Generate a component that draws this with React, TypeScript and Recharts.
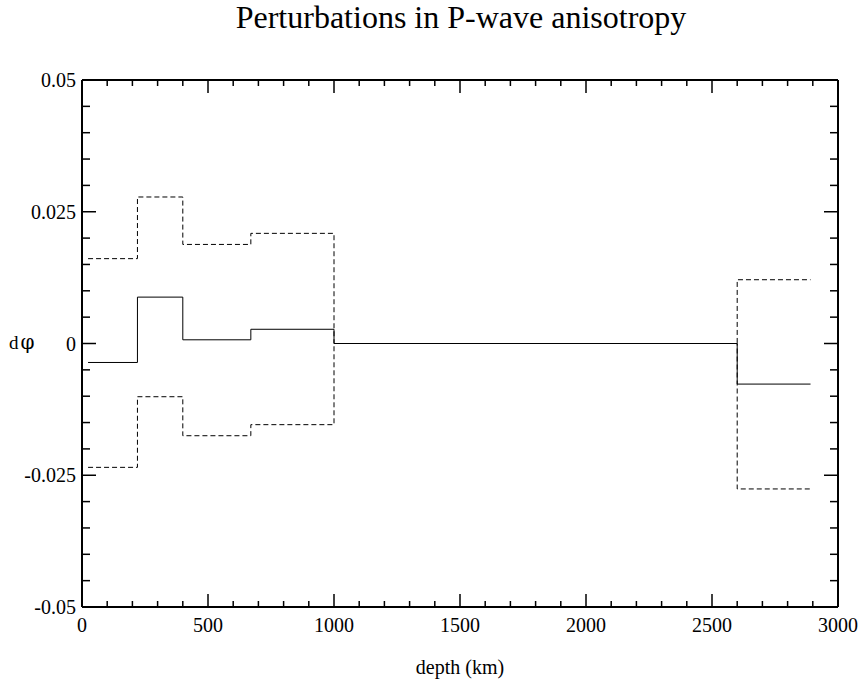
/* Perturbations in P-wave anisotropy — step profile with error bounds */

import { LineChart, Line, XAxis, YAxis } from 'recharts';

// layer tops (km); last entry is the core-mantle boundary
const depths = [24, 220, 400, 670, 1000, 2600, 2891];
const dPhi = [-0.0036, 0.0088, 0.0007, 0.0027, 0, -0.0077, -0.0077];
const upperBound = [0.0161, 0.0278, 0.0188, 0.0209, 0, 0.0121, 0.0121];
const lowerBound = [-0.0235, -0.0101, -0.0175, -0.0154, 0, -0.0276, -0.0276];

const xMajorTicks = [0, 500, 1000, 1500, 2000, 2500, 3000];
const xMinorTicks = [
  0, 100, 200, 300, 400, 500, 600, 700, 800, 900, 1000, 1100, 1200, 1300, 1400,
  1500, 1600, 1700, 1800, 1900, 2000, 2100, 2200, 2300, 2400, 2500, 2600, 2700,
  2800, 2900, 3000,
];
const yMajorTicks = [-0.05, -0.025, 0, 0.025, 0.05];
const yMinorTicks = [
  -0.05, -0.045, -0.04, -0.035, -0.03, -0.025, -0.02, -0.015, -0.01, -0.005, 0,
  0.005, 0.01, 0.015, 0.02, 0.025, 0.03, 0.035, 0.04, 0.045, 0.05,
];

const data = depths.map((depth, i) => ({
  depth,
  dphi: dPhi[i],
  upper: upperBound[i],
  lower: lowerBound[i],
}));

const FONT = '"Liberation Serif", "Times New Roman", serif';
const axisLine = { stroke: '#000', strokeWidth: 2 };

/* Inward tick marks, long on major values (which also get a label).
   Recharts hands us the label anchor; the mark is recovered from it
   with the same margin the axis was given. */
type Side = 'bottom' | 'top' | 'left' | 'right';

function makeTick(side: Side, majors: number[], majorLen: number, minorLen: number, margin: number, showLabel: boolean) {
  return (props: any) => {
    const { x, y, payload } = props;
    const isMajor = majors.includes(payload.value);
    const len = isMajor ? majorLen : minorLen;
    let x1 = x, x2 = x, y1 = y, y2 = y;
    if (side === 'bottom') { y1 = y - margin; y2 = y1 + len; }
    if (side === 'top') { y1 = y + margin; y2 = y1 - len; }
    if (side === 'left') { x1 = x + margin; x2 = x1 - len; }
    if (side === 'right') { x1 = x - margin; x2 = x1 + len; }
    // minor marks start at the axis too, so push them out by the length difference
    if (!isMajor) {
      const d = majorLen - minorLen;
      if (side === 'bottom') { y1 += d; y2 += d; }
      if (side === 'top') { y1 -= d; y2 -= d; }
      if (side === 'left') { x1 -= d; x2 -= d; }
      if (side === 'right') { x1 += d; x2 += d; }
    }
    return (
      <g>
        <line x1={x1} y1={y1} x2={x2} y2={y2} stroke="#000" strokeWidth={1.5} />
        {showLabel && isMajor && (
          <text
            x={x}
            y={y}
            fill="#000"
            style={{ fontFamily: FONT, fontSize: 20 }}
            textAnchor={side === 'left' ? 'end' : 'middle'}
            dominantBaseline={side === 'left' ? 'central' : 'hanging'}
          >
            {String(payload.value)}
          </text>
        )}
      </g>
    );
  };
}

export default function App() {
  return (
    <div style={{ position: 'absolute', left: 0, top: 0, width: 861, height: 683, background: '#fff' }}>
      <div
        style={{
          position: 'absolute', left: 0, width: 922, top: 1, textAlign: 'center',
          fontFamily: FONT, fontSize: 32, lineHeight: 1, color: '#000', whiteSpace: 'nowrap',
        }}
      >
        Perturbations in P-wave anisotropy
      </div>
      <div
        style={{
          position: 'absolute', left: 0, width: 920, top: 657, textAlign: 'center',
          fontFamily: FONT, fontSize: 20, lineHeight: 1, color: '#000', whiteSpace: 'nowrap',
        }}
      >
        depth (km)
      </div>
      <div
        style={{
          position: 'absolute', left: 9, top: 332, fontFamily: FONT, fontSize: 19,
          lineHeight: 1, color: '#000', whiteSpace: 'nowrap',
        }}
      >
        d<span style={{ fontFamily: '"DejaVu Serif", serif', fontSize: 20, marginLeft: 2 }}>φ</span>
      </div>

      <LineChart
        width={861}
        height={683}
        data={data}
        margin={{ top: 0, right: 0, bottom: 0, left: 0 }}
        style={{ position: 'absolute', left: 0, top: 0 }}
      >
        <XAxis xAxisId="b" dataKey="depth" type="number" domain={[0, 3000]} allowDataOverflow
          ticks={xMinorTicks} interval={0} orientation="bottom" height={76}
          tickSize={-13} tickMargin={24} tickLine={false} axisLine={axisLine}
          tick={makeTick('bottom', xMajorTicks, 13, 6, 24, true)} />
        <XAxis xAxisId="t" dataKey="depth" type="number" domain={[0, 3000]} allowDataOverflow
          ticks={xMinorTicks} interval={0} orientation="top" height={80}
          tickSize={-13} tickMargin={0} tickLine={false} axisLine={axisLine}
          tick={makeTick('top', xMajorTicks, 13, 6, 0, false)} />
        <YAxis yAxisId="l" type="number" domain={[-0.05, 0.05]} allowDataOverflow
          ticks={yMinorTicks} interval={0} orientation="left" width={82}
          tickSize={-14} tickMargin={20} tickLine={false} axisLine={axisLine}
          tick={makeTick('left', yMajorTicks, 14, 8, 20, true)} />
        <YAxis yAxisId="r" type="number" domain={[-0.05, 0.05]} allowDataOverflow
          ticks={yMinorTicks} interval={0} orientation="right" width={23}
          tickSize={-14} tickMargin={0} tickLine={false} axisLine={axisLine}
          tick={makeTick('right', yMajorTicks, 14, 8, 0, false)} />

        <Line xAxisId="b" yAxisId="l" type="stepAfter" dataKey="upper" stroke="#000"
          strokeWidth={1} strokeDasharray="5 3" dot={false} isAnimationActive={false} />
        <Line xAxisId="b" yAxisId="l" type="stepAfter" dataKey="lower" stroke="#000"
          strokeWidth={1} strokeDasharray="5 3" dot={false} isAnimationActive={false} />
        <Line xAxisId="b" yAxisId="l" type="stepAfter" dataKey="dphi" stroke="#000"
          strokeWidth={1} dot={false} isAnimationActive={false} />
      </LineChart>
    </div>
  );
}
